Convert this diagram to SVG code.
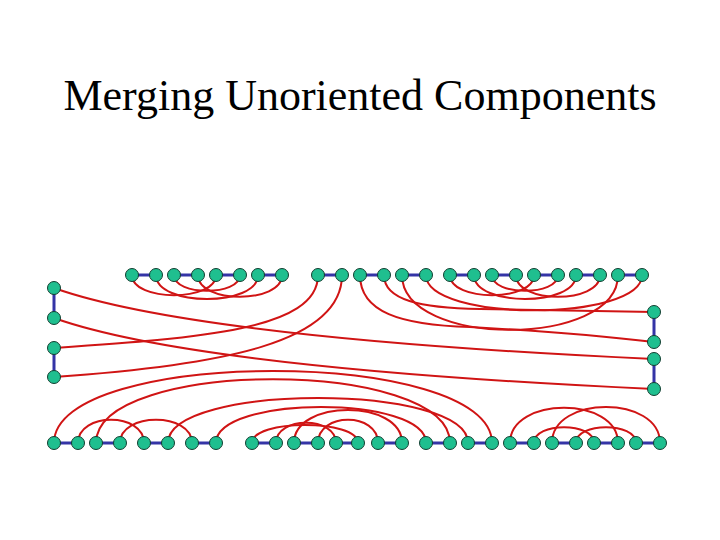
<svg xmlns="http://www.w3.org/2000/svg" width="720" height="540" viewBox="0 0 720 540">
<style>
.t{font-family:"Liberation Serif","Times New Roman",serif;font-size:44px;fill:#000}
.r{fill:none;stroke:#d01414;stroke-width:2}
.b{fill:none;stroke:#3434a6;stroke-width:3}
.n circle{fill:#1fbf8f;stroke:#123e30;stroke-width:1}
</style>
<rect width="720" height="540" fill="#fff"/>
<text class="t" x="360" y="110" text-anchor="middle">Merging Unoriented Components</text>
<g id="connectors">
<!-- top left group arcs -->
<path class="r" d="M132,275 C132,302 216,302 216,275"/>
<path class="r" d="M156,275 C156,307 258,307 258,275"/>
<path class="r" d="M174,275 C174,296 240,296 240,275"/>
<path class="r" d="M198,275 C198,304 282,304 282,275"/>
<!-- top right group arcs -->
<path class="r" d="M450,275 C450,302 534,302 534,275"/>
<path class="r" d="M474,275 C474,307 576,307 576,275"/>
<path class="r" d="M492,275 C492,296 558,296 558,275"/>
<path class="r" d="M516,275 C516,304 600,304 600,275"/>
<!-- top middle long arcs -->
<path class="r" d="M426,275 C426,322 642,322 642,275"/>
<path class="r" d="M402,275 C402,348 618,348 618,275"/>
<path class="r" d="M384,275 C384,300 420,308 480,309 C560,310 620,311 654,312"/>
<path class="r" d="M360,275 C360,312 400,325 470,327 C560,332 620,338 654,342"/>
<!-- left long curves -->
<path class="r" d="M54,288 C150,322 350,345 654,359"/>
<path class="r" d="M54,318 C150,352 350,375 654,389"/>
<path class="r" d="M54,348 C200,338 318,330 318,275"/>
<path class="r" d="M54,377 C225,365 342,342 342,275"/>
<!-- bottom arcs -->
<path class="r" d="M54,443 C54,347 492,347 492,443"/>
<path class="r" d="M96,443 C96,358 450,358 450,443"/>
<path class="r" d="M168,443 C168,383 468,383 468,443"/>
<path class="r" d="M216,443 C216,395 426,395 426,443"/>
<path class="r" d="M252,443 C252,419 358,419 358,443"/>
<path class="r" d="M276,443 C276,416 336,416 336,443"/>
<path class="r" d="M294,443 C294,399 402,399 402,443"/>
<path class="r" d="M318,443 C318,412 378,412 378,443"/>
<path class="r" d="M78,443 C78,412 144,412 144,443"/>
<path class="r" d="M120,443 C120,412 192,412 192,443"/>
<path class="r" d="M510,443 C510,396 618,396 618,443"/>
<path class="r" d="M552,443 C552,395 660,395 660,443"/>
<path class="r" d="M534,443 C534,422 594,422 594,443"/>
<path class="r" d="M576,443 C576,422 636,422 636,443"/>
<!-- blue edges -->
<path class="b" d="M132,275H156M174,275H198M216,275H240M258,275H282M318,275H342M360,275H384M402,275H426M450,275H474M492,275H516M534,275H558M576,275H600M618,275H642"/>
<path class="b" d="M54,288V318M54,348V377M654,312V342M654,359V389"/>
<path class="b" d="M54,443H78M96,443H120M144,443H168M192,443H216M252,443H276M294,443H318M336,443H358M378,443H402M426,443H450M468,443H492M510,443H534M552,443H576M594,443H618M636,443H660"/>
</g>
<g class="n">
<g id="t1"><circle cx="132" cy="275" r="6.5"/></g>
<g id="t2"><circle cx="156" cy="275" r="6.5"/></g>
<g id="t3"><circle cx="174" cy="275" r="6.5"/></g>
<g id="t4"><circle cx="198" cy="275" r="6.5"/></g>
<g id="t5"><circle cx="216" cy="275" r="6.5"/></g>
<g id="t6"><circle cx="240" cy="275" r="6.5"/></g>
<g id="t7"><circle cx="258" cy="275" r="6.5"/></g>
<g id="t8"><circle cx="282" cy="275" r="6.5"/></g>
<g id="t9"><circle cx="318" cy="275" r="6.5"/></g>
<g id="t10"><circle cx="342" cy="275" r="6.5"/></g>
<g id="t11"><circle cx="360" cy="275" r="6.5"/></g>
<g id="t12"><circle cx="384" cy="275" r="6.5"/></g>
<g id="t13"><circle cx="402" cy="275" r="6.5"/></g>
<g id="t14"><circle cx="426" cy="275" r="6.5"/></g>
<g id="t15"><circle cx="450" cy="275" r="6.5"/></g>
<g id="t16"><circle cx="474" cy="275" r="6.5"/></g>
<g id="t17"><circle cx="492" cy="275" r="6.5"/></g>
<g id="t18"><circle cx="516" cy="275" r="6.5"/></g>
<g id="t19"><circle cx="534" cy="275" r="6.5"/></g>
<g id="t20"><circle cx="558" cy="275" r="6.5"/></g>
<g id="t21"><circle cx="576" cy="275" r="6.5"/></g>
<g id="t22"><circle cx="600" cy="275" r="6.5"/></g>
<g id="t23"><circle cx="618" cy="275" r="6.5"/></g>
<g id="t24"><circle cx="642" cy="275" r="6.5"/></g>
<g id="l1"><circle cx="54" cy="288" r="6.5"/></g>
<g id="l2"><circle cx="54" cy="318" r="6.5"/></g>
<g id="l3"><circle cx="54" cy="348" r="6.5"/></g>
<g id="l4"><circle cx="54" cy="377" r="6.5"/></g>
<g id="r1"><circle cx="654" cy="312" r="6.5"/></g>
<g id="r2"><circle cx="654" cy="342" r="6.5"/></g>
<g id="r3"><circle cx="654" cy="359" r="6.5"/></g>
<g id="r4"><circle cx="654" cy="389" r="6.5"/></g>
<g id="b1"><circle cx="54" cy="443" r="6.5"/></g>
<g id="b2"><circle cx="78" cy="443" r="6.5"/></g>
<g id="b3"><circle cx="96" cy="443" r="6.5"/></g>
<g id="b4"><circle cx="120" cy="443" r="6.5"/></g>
<g id="b5"><circle cx="144" cy="443" r="6.5"/></g>
<g id="b6"><circle cx="168" cy="443" r="6.5"/></g>
<g id="b7"><circle cx="192" cy="443" r="6.5"/></g>
<g id="b8"><circle cx="216" cy="443" r="6.5"/></g>
<g id="b9"><circle cx="252" cy="443" r="6.5"/></g>
<g id="b10"><circle cx="276" cy="443" r="6.5"/></g>
<g id="b11"><circle cx="294" cy="443" r="6.5"/></g>
<g id="b12"><circle cx="318" cy="443" r="6.5"/></g>
<g id="b13"><circle cx="336" cy="443" r="6.5"/></g>
<g id="b14"><circle cx="358" cy="443" r="6.5"/></g>
<g id="b15"><circle cx="378" cy="443" r="6.5"/></g>
<g id="b16"><circle cx="402" cy="443" r="6.5"/></g>
<g id="b17"><circle cx="426" cy="443" r="6.5"/></g>
<g id="b18"><circle cx="450" cy="443" r="6.5"/></g>
<g id="b19"><circle cx="468" cy="443" r="6.5"/></g>
<g id="b20"><circle cx="492" cy="443" r="6.5"/></g>
<g id="b21"><circle cx="510" cy="443" r="6.5"/></g>
<g id="b22"><circle cx="534" cy="443" r="6.5"/></g>
<g id="b23"><circle cx="552" cy="443" r="6.5"/></g>
<g id="b24"><circle cx="576" cy="443" r="6.5"/></g>
<g id="b25"><circle cx="594" cy="443" r="6.5"/></g>
<g id="b26"><circle cx="618" cy="443" r="6.5"/></g>
<g id="b27"><circle cx="636" cy="443" r="6.5"/></g>
<g id="b28"><circle cx="660" cy="443" r="6.5"/></g>
</g>
</svg>
